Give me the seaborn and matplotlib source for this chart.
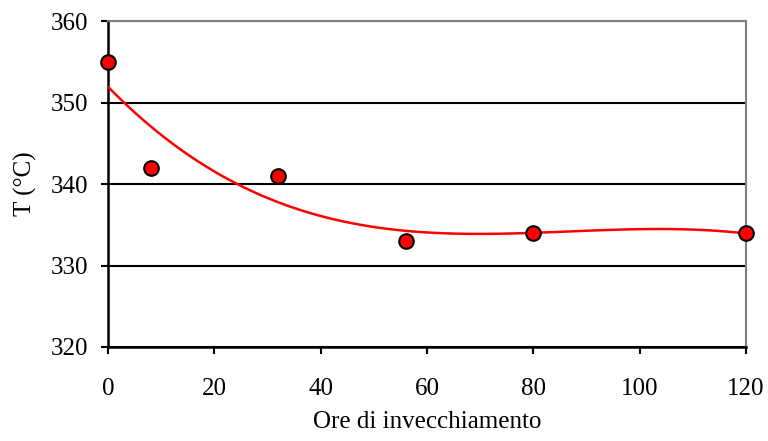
import numpy as np
import pandas as pd
import seaborn as sns
import matplotlib.pyplot as plt

# aging hours vs temperature
ore = [0, 8, 32, 56, 80, 120]
temp = [355, 342, 341, 333, 334, 334]
xticks = [0, 20, 40, 60, 80, 100, 120]
yticks = [320, 330, 340, 350, 360]

df = pd.DataFrame({"ore": ore, "T": temp})

sns.set_style("white")
plt.rcParams['font.family'] = ['Liberation Serif', 'DejaVu Serif']
plt.rcParams['text.color'] = 'black'
plt.rcParams['axes.labelcolor'] = 'black'
plt.rcParams['xtick.color'] = 'black'
plt.rcParams['ytick.color'] = 'black'

fig = plt.figure(figsize=(7.68, 4.41), dpi=100)
ax = fig.add_axes([0.1406, 0.2132, 0.8307, 0.739])

# trendline (3rd order polynomial, like the excel one)
sns.regplot(data=df, x="ore", y="T", order=3, ci=None, scatter=False,
            line_kws={"color": "#ff0000", "lw": 1.8, "zorder": 3}, ax=ax)
sns.scatterplot(data=df, x="ore", y="T", s=110, color="#ff0000",
                edgecolor="black", linewidth=1.5, zorder=4, clip_on=False, ax=ax)

ax.set_xlim(0, 120)
ax.set_ylim(320, 360)
ax.set_xticks(xticks)
ax.set_yticks(yticks)
ax.yaxis.grid(True, color="black", lw=1.5)
ax.set_axisbelow(True)

for s in ["left", "bottom"]:
    ax.spines[s].set_color("black")
    ax.spines[s].set_linewidth(1.8)
for s in ["top", "right"]:
    ax.spines[s].set_color("#808080")
    ax.spines[s].set_linewidth(1.5)

ax.tick_params(axis="both", direction="out", length=5, width=1.5,
               labelsize=18, bottom=True, left=True)
ax.tick_params(axis="x", pad=17)
ax.tick_params(axis="y", pad=9)
ax.set_xlabel("Ore di invecchiamento", fontsize=18, labelpad=8)
ax.set_ylabel("T (°C)", fontsize=18, labelpad=10)

fig.savefig("out.png", dpi=100)
